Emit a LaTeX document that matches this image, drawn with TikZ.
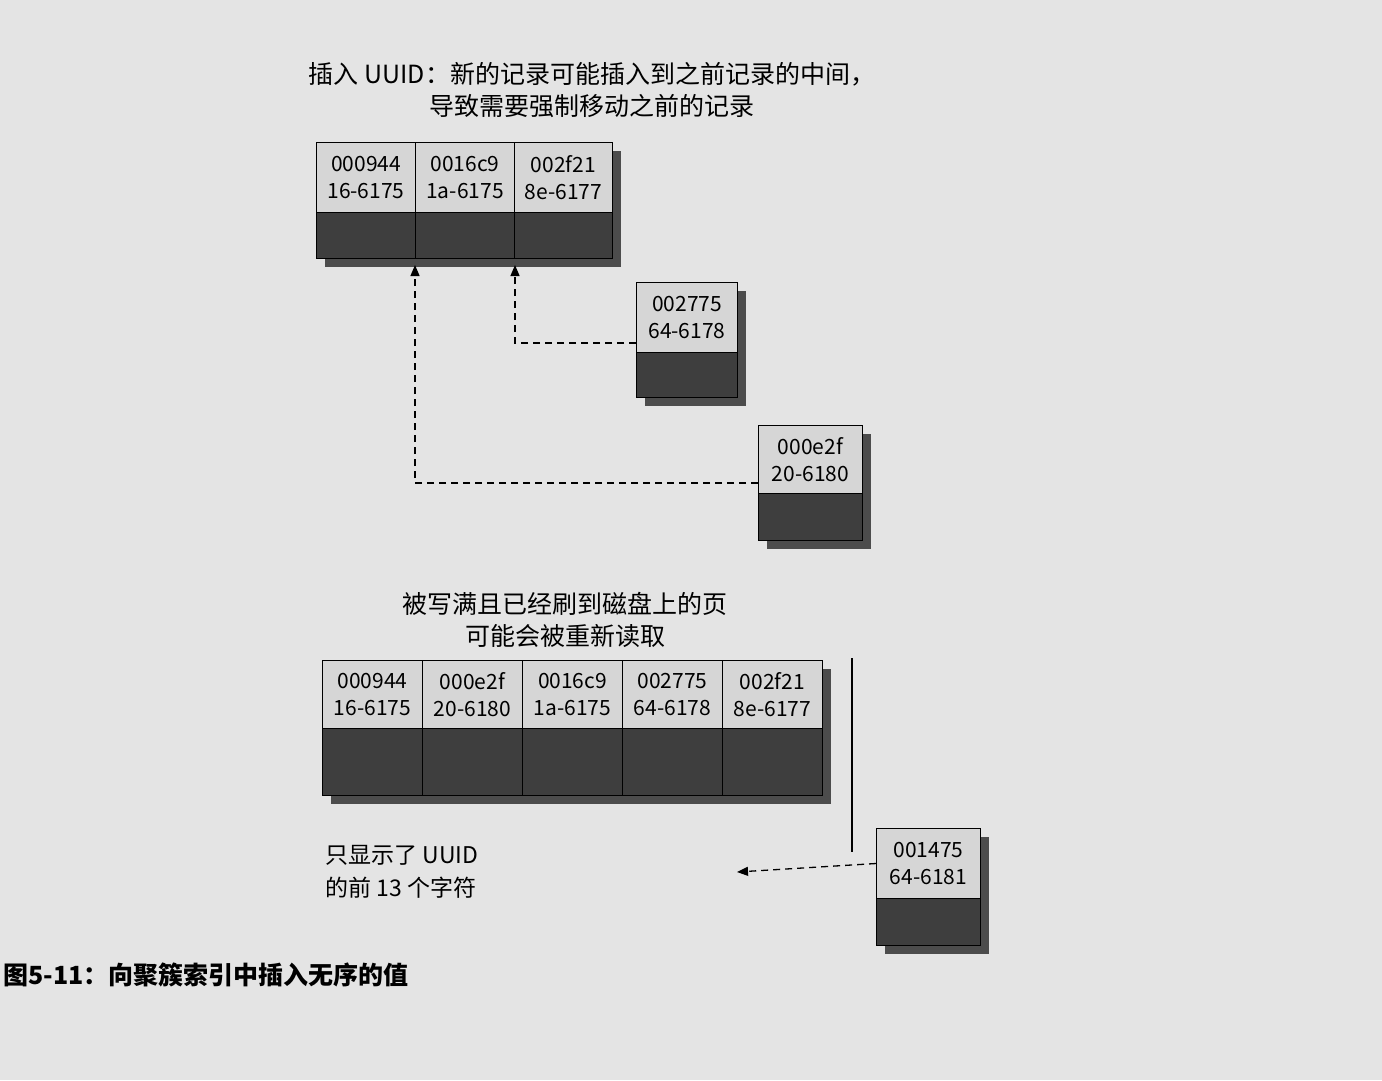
\documentclass[tikz,border=0pt]{standalone}
\usepackage{fontspec}
\setmainfont{Noto Sans CJK SC}
\newfontfamily\cjk{Noto Sans CJK SC}
\usetikzlibrary{arrows.meta}
\definecolor{pagebg}{HTML}{E4E4E4}
\definecolor{celllight}{HTML}{D6D6D6}
\definecolor{celldark}{HTML}{3E3E3E}
\tikzset{
  txt/.style={font=\cjk\fontsize{25}{32}\selectfont, align=center},
  captext/.style={font=\cjk\bfseries\fontsize{25}{30}\selectfont, anchor=west},
  conn/.style={dash pattern=on 7pt off 5pt, line width=1.3pt, -{Triangle[length=11pt,width=9pt]}},
}
\newcommand{\rcell}[8]{%
  \fill[black!70] (#1+9,#2+9) rectangle (#1+#3+9,#2+#4+#5+9);
  \node[draw=black, line width=1pt, fill=celllight, minimum width=#3pt, minimum height=#4pt, anchor=north west, inner sep=0pt, align=center, font=\cjk\fontsize{21}{27}\selectfont] (#6) at (#1,#2) {#7\\#8};
  \node[draw=black, line width=1pt, fill=celldark, minimum width=#3pt, minimum height=#5pt, anchor=north west, inner sep=0pt] (#6b) at (#1,#2+#4) {};
}
\begin{document}
\begin{tikzpicture}[x=1pt,y=-1pt]
\useasboundingbox (0,0) rectangle (1382,1080);
\fill[pagebg] (0,0) rectangle (1382,1080);
\node[txt] (t1) at (592,90) {插入 UUID：新的记录可能插入到之前记录的中间，\\导致需要强制移动之前的记录};
\rcell{316}{142}{99}{70}{46}{a1}{000944}{16-6175}
\rcell{415}{142}{99}{70}{46}{a2}{0016c9}{1a-6175}
\rcell{514}{142}{98}{70}{46}{a3}{002f21}{8e-6177}
\rcell{636}{282}{101}{70}{45}{r1}{002775}{64-6178}
\rcell{758}{425}{104}{68}{47}{r2}{000e2f}{20-6180}
\coordinate (u1) at (515,265);
\coordinate (u2) at (415,265);
\draw[conn] ([yshift=10pt]r1.south west) -| (u1);
\draw[conn] ([yshift=11pt]r2.south west) -| (u2);
\node[txt] (t2) at (565,620) {被写满且已经刷到磁盘上的页\\可能会被重新读取};
\rcell{322}{660}{100}{68}{67}{b1}{000944}{16-6175}
\rcell{422}{660}{100}{68}{67}{b2}{000e2f}{20-6180}
\rcell{522}{660}{100}{68}{67}{b3}{0016c9}{1a-6175}
\rcell{622}{660}{100}{68}{67}{b4}{002775}{64-6178}
\rcell{722}{660}{100}{68}{67}{b5}{002f21}{8e-6177}
\coordinate (v1) at (852,658);
\coordinate (v2) at (852,852);
\draw[line width=1.2pt] (v1) -- (v2);
\rcell{876}{828}{104}{70}{47}{r3}{001475}{64-6181}
\coordinate (w) at (737,872);
\draw[conn] (r3.west) -- (w);
\node[txt, align=left, anchor=north west, font=\cjk\fontsize{23}{33}\selectfont] (t3) at (322,842) {只显示了 UUID\\的前 13 个字符};
\node[captext] (c) at (0,975) {图5-11：向聚簇索引中插入无序的值};
\end{tikzpicture}
\end{document}
